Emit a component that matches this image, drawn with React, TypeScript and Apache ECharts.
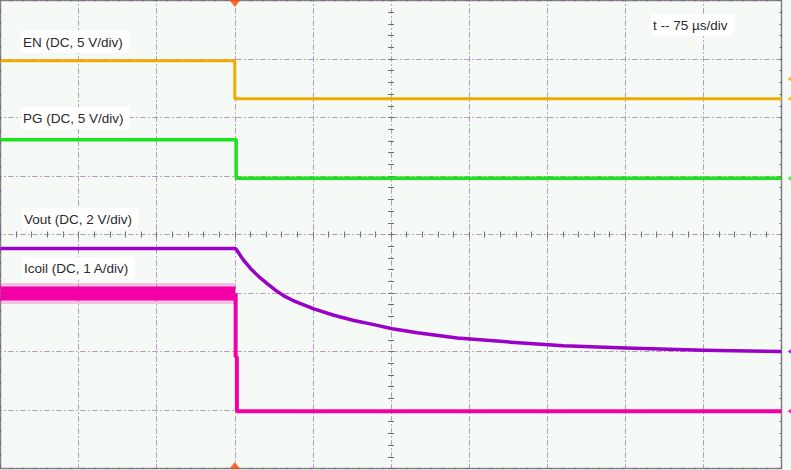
import React, { useEffect, useRef } from "react";
import * as echarts from "echarts";

// time axis: 75 µs/div, 10 divisions; vertical axis in divisions (8 div, 0 = bottom)
const TIME_MIN = 0;
const TIME_MAX = 750;
const TIME_DIV = 75;
const DIV_MIN = 0;
const DIV_MAX = 8;

const TRIGGER_T = 225;

const EN_T = [0, 225, 225, 750];
const EN_V = [6.97, 6.97, 6.32, 6.32];

const PG_T = [0, 226.3, 226.3, 750];
const PG_V = [5.62, 5.62, 4.96, 4.96];

const VOUT_T = [0, 225, 226.3, 233, 240.1, 248, 256.1, 264, 272.1, 280, 288.1, 300.9, 320.1, 339.3, 358.5, 376.2, 400.2, 438.6, 490, 540.7, 600.2, 675.1, 750];
const VOUT_V = [3.76, 3.76, 3.75, 3.57, 3.42, 3.28, 3.16, 3.05, 2.95, 2.88, 2.82, 2.73, 2.62, 2.53, 2.46, 2.39, 2.32, 2.23, 2.16, 2.1, 2.06, 2.02, 2.0];

const ICOIL_HI_T = [0, 225.5];
const ICOIL_HI_V = [2.99, 2.99];
const ICOIL_LO_T = [225.8, 225.8, 227, 227, 750];
const ICOIL_LO_V = [2.99, 1.91, 1.91, 0.98, 0.98];

const LABELS = [
  { text: "EN (DC, 5 V/div)", x: 21, y: 42 },
  { text: "PG (DC, 5 V/div)", x: 21, y: 118 },
  { text: "Vout (DC, 2 V/div)", x: 22, y: 219 },
  { text: "Icoil (DC, 1 A/div)", x: 22, y: 268 },
  { text: "t -- 75 µs/div", x: 651, y: 25 },
];

const REF_MARK_T = [750, 750, 750, 750, 750];
const REF_MARK_V = [6.66, 6.32, 4.96, 2.0, 0.98];
const REF_MARK_C = ["#f2a900", "#f2a900", "#22dd22", "#9a00c6", "#f200a6"];

const C_EN = "#f2a900";
const C_PG = "#1ee21e";
const C_VOUT = "#9a00c6";
const C_ICOIL = "#f200a6";

const zip = (a: number[], b: number[]) => a.map((v, i) => [v, b[i]]);

export default function App() {
  const ref = useRef<HTMLDivElement>(null);
  useEffect(() => {
    if (!ref.current) return;
    const chart = echarts.init(ref.current, null, { renderer: "svg" });
    const hidden = { show: false };
    const baseX = { type: "value", min: TIME_MIN, max: TIME_MAX, interval: TIME_DIV, axisLabel: hidden, axisTick: hidden, axisLine: hidden };
    const baseY = { type: "value", min: DIV_MIN, max: DIV_MAX, interval: 1, axisLabel: hidden, axisTick: hidden, axisLine: hidden };
    const tickStyle = { color: "#6f6f6f", width: 1 };
    chart.setOption({
      animation: false,
      backgroundColor: "#f5faf6",
      grid: { left: 0.5, right: 9.5, top: 0.5, bottom: 1.5, show: true, borderColor: "#8a8a8a", borderWidth: 1.5, backgroundColor: "#f5faf6" },
      xAxis: [
        { ...baseX, splitLine: { show: true, lineStyle: { color: "#6a6a6a", width: 1, type: [1, 3] } } },
        { ...baseX, splitLine: { show: true, lineStyle: { color: "#a000d0", width: 1, type: [1, 11], dashOffset: 2 } } },
        { ...baseX, interval: 15, position: "bottom", offset: -234, splitLine: hidden, axisTick: { show: true, length: 3, inside: false, lineStyle: tickStyle } },
        { ...baseX, interval: 15, position: "bottom", offset: -234, splitLine: hidden, axisTick: { show: true, length: 3, inside: true, lineStyle: tickStyle } },
      ],
      yAxis: [
        { ...baseY, splitLine: { show: true, lineStyle: { color: "#6a6a6a", width: 1, type: [1, 3] } } },
        { ...baseY, splitLine: { show: true, lineStyle: { color: "#a000d0", width: 1, type: [1, 11], dashOffset: 2 } } },
        { ...baseY, interval: 0.2, position: "left", offset: -390.5, splitLine: hidden, axisTick: { show: true, length: 3, inside: false, lineStyle: tickStyle } },
        { ...baseY, interval: 0.2, position: "left", offset: -390.5, splitLine: hidden, axisTick: { show: true, length: 3, inside: true, lineStyle: tickStyle } },
        { ...baseY, interval: 0.2, position: "right", splitLine: hidden, axisTick: { show: true, length: 2, inside: true, lineStyle: tickStyle } },
      ],
      series: [
        { type: "line", name: "EN", data: zip(EN_T, EN_V), showSymbol: false, lineStyle: { color: C_EN, width: 3 }, z: 3 },
        { type: "line", name: "PG", data: zip(PG_T, PG_V), showSymbol: false, lineStyle: { color: C_PG, width: 3.5 }, z: 3 },
        { type: "line", name: "Icoil envelope", data: zip(ICOIL_HI_T, ICOIL_HI_V), showSymbol: false, lineStyle: { color: C_ICOIL, width: 21, cap: "butt", opacity: 0.22 }, z: 3 },
        { type: "line", name: "Icoil", data: zip(ICOIL_HI_T, ICOIL_HI_V), showSymbol: false, lineStyle: { color: C_ICOIL, width: 14, cap: "butt" }, z: 3 },
        { type: "line", name: "Icoil drop", data: zip(ICOIL_LO_T, ICOIL_LO_V), showSymbol: false, lineStyle: { color: C_ICOIL, width: 4, cap: "butt" }, z: 3 },
        { type: "line", name: "Vout", data: zip(VOUT_T, VOUT_V), showSymbol: false, lineStyle: { color: C_VOUT, width: 3.5, join: "round" }, z: 4 },
        {
          type: "scatter", name: "trigger", clip: false, z: 6,
          data: [
            { value: [TRIGGER_T, DIV_MAX], symbolRotate: 180, symbolOffset: [0, 3] },
            { value: [TRIGGER_T, DIV_MIN], symbolRotate: 0, symbolOffset: [0, -3] },
          ],
          symbol: "triangle", symbolSize: [11, 7], itemStyle: { color: "#ff4a00" },
        },
        {
          type: "scatter", name: "refs", clip: false, z: 6,
          data: REF_MARK_T.map((t, i) => ({ value: [t, REF_MARK_V[i]], itemStyle: { color: REF_MARK_C[i] } })),
          symbol: "arrow", symbolRotate: 90, symbolSize: [6, 6], symbolOffset: [6, 0],
        },
      ],
      graphic: LABELS.map((l) => ({
        type: "text", x: l.x, y: l.y, z: 10,
        style: { text: l.text, font: '13.5px "Liberation Sans", Arial, sans-serif', fill: "#2a2a2a", backgroundColor: "#ffffff", padding: [4, 6, 4, 2], verticalAlign: "middle" },
      })),
    });
    return () => chart.dispose();
  }, []);
  return <div ref={ref} style={{ position: "absolute", left: 0, top: 0, width: 791, height: 470 }} />;
}
